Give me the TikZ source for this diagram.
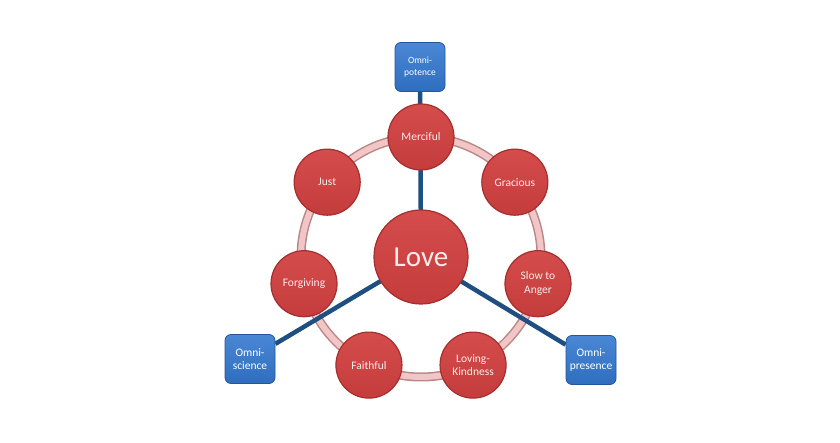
\documentclass[tikz,border=0pt]{standalone}
\usepackage{fontspec}
\setmainfont{Carlito}
\usetikzlibrary{backgrounds}
\definecolor{virtuered}{HTML}{C43C3C}
\definecolor{virtuetop}{HTML}{D44D4C}
\definecolor{virtueedge}{HTML}{A52E2E}
\definecolor{omniblue}{HTML}{2F6DBE}
\definecolor{omnitop}{HTML}{4A88D6}
\definecolor{omniedge}{HTML}{25569A}
\definecolor{spokeblue}{HTML}{1F4E82}
\definecolor{ringout}{HTML}{BD8686}
\definecolor{ringin}{HTML}{F0C6C6}
\tikzset{
    virtue/.style={circle, minimum size=66pt, inner sep=0pt, align=center,
        top color=virtuetop, bottom color=virtuered, draw=virtueedge, line width=1.2pt,
        text=white!92!red, font=\fontsize{11.5}{13.5}\selectfont},
    core/.style={virtue, minimum size=94pt, font=\fontsize{29}{32}\selectfont},
    omni/.style={rectangle, rounded corners=6pt, minimum width=50pt, minimum height=49pt,
        inner sep=0pt, align=center, top color=omnitop, bottom color=omniblue,
        draw=omniedge, line width=0.8pt, text=white, font=\fontsize{11.5}{13.5}\selectfont},
    spoke/.style={spokeblue, line width=4.5pt},
}
\begin{document}
\begin{tikzpicture}[x=1pt, y=1pt]
    \useasboundingbox (0,0) rectangle (840,443);

    % Centre and the seven attributes round it
    \node[core] (love) at (421,186) {Love};
    \node[virtue] (merciful) at ([shift={(90:120)}]love) {Merciful};
    \node[virtue] (gracious) at ([shift={(38.57:120)}]love) {Gracious};
    \node[virtue] (slow) at ([shift={(-12.86:120)}]love) {Slow to\\Anger};
    \node[virtue] (loving) at ([shift={(-64.29:120)}]love) {Loving-\\Kindness};
    \node[virtue] (faithful) at ([shift={(-115.71:120)}]love) {Faithful};
    \node[virtue] (forgiving) at ([shift={(-167.14:120)}]love) {Forgiving};
    \node[virtue] (just) at ([shift={(141.43:120)}]love) {Just};

    % The three omni- boxes
    \node[omni, font=\fontsize{9.5}{12}\selectfont] (potence) at (420,376) {Omni-\\potence};
    \node[omni] (science) at (250,84) {Omni-\\science};
    \node[omni] (presence) at (591,83) {Omni-\\presence};

    \begin{pgfonlayer}{background}
        \fill[white] (0,0) rectangle (840,443);
        % Ring
        \draw[ringout, line width=9pt] (love.center) circle (120);
        \draw[ringin, line width=6pt] (love.center) circle (120);
        % Spokes
        \draw[spoke] (love.center) -- (potence);
        \draw[spoke] (love.center) -- (science);
        \draw[spoke] (love.center) -- (presence);
    \end{pgfonlayer}
\end{tikzpicture}
\end{document}
